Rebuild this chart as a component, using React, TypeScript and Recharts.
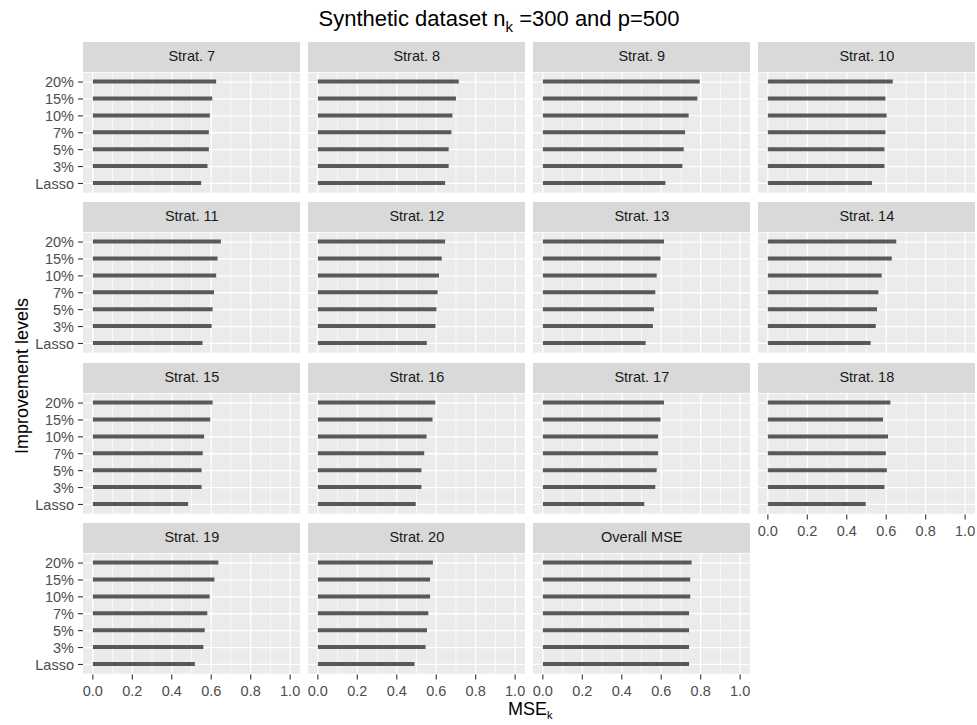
import React from "react";
import { BarChart, Bar, XAxis, YAxis, CartesianGrid } from "recharts";

const LEVELS = ["Lasso", "3%", "5%", "7%", "10%", "15%", "20%"];
const FACETS = [
  "Strat. 7", "Strat. 8", "Strat. 9", "Strat. 10",
  "Strat. 11", "Strat. 12", "Strat. 13", "Strat. 14",
  "Strat. 15", "Strat. 16", "Strat. 17", "Strat. 18",
  "Strat. 19", "Strat. 20", "Overall MSE",
];

// values in LEVELS order (Lasso, 3%, 5%, 7%, 10%, 15%, 20%)
const strat7 = [0.549, 0.581, 0.588, 0.588, 0.593, 0.605, 0.625];
const strat8 = [0.645, 0.663, 0.663, 0.677, 0.682, 0.700, 0.714];
const strat9 = [0.621, 0.707, 0.714, 0.721, 0.739, 0.783, 0.795];
const strat10 = [0.528, 0.591, 0.591, 0.596, 0.602, 0.596, 0.633];
const strat11 = [0.556, 0.602, 0.607, 0.614, 0.625, 0.632, 0.649];
const strat12 = [0.552, 0.596, 0.601, 0.607, 0.614, 0.628, 0.645];
const strat13 = [0.521, 0.558, 0.563, 0.570, 0.577, 0.596, 0.614];
const strat14 = [0.521, 0.547, 0.553, 0.560, 0.577, 0.628, 0.651];
const strat15 = [0.483, 0.551, 0.551, 0.557, 0.564, 0.595, 0.607];
const strat16 = [0.496, 0.525, 0.525, 0.539, 0.551, 0.581, 0.595];
const strat17 = [0.514, 0.570, 0.577, 0.584, 0.584, 0.596, 0.614];
const strat18 = [0.496, 0.591, 0.603, 0.598, 0.609, 0.584, 0.621];
const strat19 = [0.517, 0.560, 0.567, 0.580, 0.592, 0.616, 0.636];
const strat20 = [0.490, 0.546, 0.553, 0.560, 0.569, 0.569, 0.583];
const overall = [0.741, 0.741, 0.741, 0.741, 0.747, 0.747, 0.754];

const SERIES = [
  strat7, strat8, strat9, strat10,
  strat11, strat12, strat13, strat14,
  strat15, strat16, strat17, strat18,
  strat19, strat20, overall,
];

const MAJOR_TICKS = [0, 0.2, 0.4, 0.6, 0.8, 1.0];
const MINOR_TICKS = [0.1, 0.3, 0.5, 0.7, 0.9];

const NCOL = 4;
const PANEL_W = 217;
const PLOT_H = 121.5;
const STRIP_H = 29.8;
const COL_X0 = 83.3;
const COL_PITCH = 225;
const ROW_Y0 = 42;
const ROW_PITCH = 160.4;
const Y_AXIS_W = 60;
const X_AXIS_H = 30;

const FONT = "'Liberation Sans', Arial, sans-serif";

function Panel({ idx }: { idx: number }) {
  const row = Math.floor(idx / NCOL);
  const col = idx % NCOL;
  const total = FACETS.length;
  const showY = col === 0;
  const showX = idx + NCOL >= total;
  const left = COL_X0 + col * COL_PITCH;
  const stripTop = ROW_Y0 + row * ROW_PITCH;
  const plotTop = stripTop + STRIP_H;
  const data = LEVELS.map((lv, i) => ({ level: lv, value: SERIES[idx][i] }));
  const w = PANEL_W + (showY ? Y_AXIS_W : 0);
  const h = PLOT_H + (showX ? X_AXIS_H : 0);
  return (
    <>
      <div
        style={{
          position: "absolute",
          left,
          top: stripTop,
          width: PANEL_W,
          height: STRIP_H,
          background: "#D9D9D9",
          color: "#1A1A1A",
          fontSize: 14.5,
          lineHeight: `${STRIP_H}px`,
          textAlign: "center",
        }}
      >
        {FACETS[idx]}
      </div>
      <div
        style={{
          position: "absolute",
          left: left - (showY ? Y_AXIS_W : 0),
          top: plotTop,
          width: w,
          height: h,
        }}
      >
        <BarChart
          width={w}
          height={h}
          data={data}
          layout="vertical"
          margin={{ top: 0, right: 0, bottom: 0, left: 0 }}
          barCategoryGap={0}
        >
          <CartesianGrid
            fill="#EBEBEB"
            stroke="#FFFFFF"
            strokeWidth={0.7}
            horizontal={false}
            verticalValues={MINOR_TICKS}
          />
          <CartesianGrid
            stroke="#FFFFFF"
            strokeWidth={1.3}
            verticalValues={MAJOR_TICKS}
          />
          <XAxis
            type="number"
            dataKey="value"
            domain={[-0.05, 1.05]}
            ticks={MAJOR_TICKS}
            interval={0}
            allowDataOverflow
            hide={!showX}
            height={X_AXIS_H}
            axisLine={false}
            tickLine={{ stroke: "#333333", strokeWidth: 1.1 }}
            tickSize={5}
            tickMargin={6}
            tick={{ fill: "#4D4D4D", fontSize: 14.5, fontFamily: FONT }}
            tickFormatter={(v: number) => v.toFixed(1)}
          />
          <YAxis
            type="category"
            dataKey="level"
            reversed
            interval={0}
            hide={!showY}
            width={Y_AXIS_W}
            padding={{ top: 1.6, bottom: 1.6 }}
            axisLine={false}
            tickLine={{ stroke: "#333333", strokeWidth: 1.1 }}
            tickSize={5}
            tickMargin={4}
            tick={{ fill: "#4D4D4D", fontSize: 14.5, fontFamily: FONT }}
          />
          <Bar dataKey="value" fill="#595959" barSize={4} isAnimationActive={false} />
        </BarChart>
      </div>
    </>
  );
}

export default function App() {
  return (
    <div
      style={{
        position: "absolute",
        left: 0,
        top: 0,
        width: 977,
        height: 725,
        background: "#FFFFFF",
        fontFamily: FONT,
        overflow: "hidden",
      }}
    >
      {FACETS.map((_, i) => (
        <Panel key={i} idx={i} />
      ))}
      <svg
        width={977}
        height={725}
        style={{ position: "absolute", left: 0, top: 0, pointerEvents: "none" }}
      >
        <text x={499} y={26} textAnchor="middle" fontSize={22} fill="#000000" fontFamily={FONT}>
          Synthetic dataset n
          <tspan dy={6} fontSize={15}>k</tspan>
          <tspan dy={-6} fontSize={22}> =300 and p=500</tspan>
        </text>
        <text
          transform="translate(27.5, 376) rotate(-90)"
          textAnchor="middle"
          fontSize={18}
          fill="#000000"
          fontFamily={FONT}
        >
          Improvement levels
        </text>
        <text x={508} y={715} fontSize={18} fill="#000000" fontFamily={FONT}>
          MSE
          <tspan dy={4} fontSize={11}>k</tspan>
        </text>
      </svg>
    </div>
  );
}
